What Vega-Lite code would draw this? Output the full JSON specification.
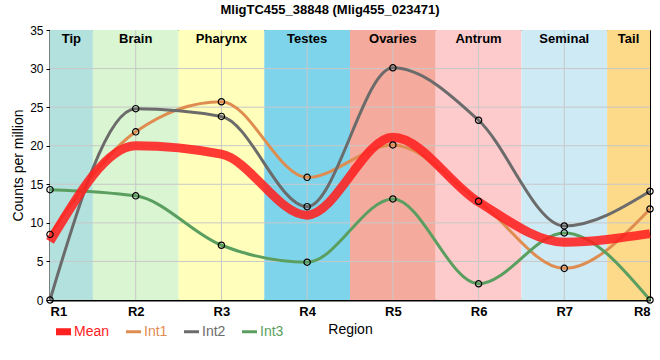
{
  "$schema": "https://vega.github.io/schema/vega-lite/v6.json",
  "width": 600,
  "height": 270,
  "autosize": {"type": "none"},
  "padding": {"left": 50, "top": 30, "right": 10, "bottom": 60},
  "title": {"text": "MligTC455_38848 (Mlig455_023471)", "fontSize": 13, "fontWeight": "bold", "font": "Liberation Sans", "anchor": "middle", "frame": "group", "dx": -20, "offset": 7, "color": "black"},
  "config": {"view": {"stroke": "black", "strokeWidth": 1}, "font": "Liberation Sans",
    "axisY": {"labelOverlap": false}},
  "datasets": {
    "bands": [
      {"name": "Tip", "start": 1, "end": 1.5, "mid": 1.25},
      {"name": "Brain", "start": 1.5, "end": 2.5, "mid": 2},
      {"name": "Pharynx", "start": 2.5, "end": 3.5, "mid": 3},
      {"name": "Testes", "start": 3.5, "end": 4.5, "mid": 4},
      {"name": "Ovaries", "start": 4.5, "end": 5.5, "mid": 5},
      {"name": "Antrum", "start": 5.5, "end": 6.5, "mid": 6},
      {"name": "Seminal", "start": 6.5, "end": 7.5, "mid": 7},
      {"name": "Tail", "start": 7.5, "end": 8, "mid": 7.75}
    ],
    "xgrid": [{"r": 2}, {"r": 3}, {"r": 4}, {"r": 5}, {"r": 6}, {"r": 7}],
    "ygrid": [{"v": 5}, {"v": 10}, {"v": 15}, {"v": 20}, {"v": 25}, {"v": 30}],
    "series": [
      {"series": "Int1", "r": 1, "v": 8.5},
      {"series": "Int1", "r": 2, "v": 21.8},
      {"series": "Int1", "r": 3, "v": 25.7},
      {"series": "Int1", "r": 4, "v": 15.9},
      {"series": "Int1", "r": 5, "v": 20.1},
      {"series": "Int1", "r": 6, "v": 12.8},
      {"series": "Int1", "r": 7, "v": 4.1},
      {"series": "Int1", "r": 8, "v": 11.8},
      {"series": "Int2", "r": 1, "v": 0},
      {"series": "Int2", "r": 2, "v": 24.8},
      {"series": "Int2", "r": 3, "v": 23.8},
      {"series": "Int2", "r": 4, "v": 12.1},
      {"series": "Int2", "r": 5, "v": 30.1},
      {"series": "Int2", "r": 6, "v": 23.3},
      {"series": "Int2", "r": 7, "v": 9.6},
      {"series": "Int2", "r": 8, "v": 14.1},
      {"series": "Int3", "r": 1, "v": 14.3},
      {"series": "Int3", "r": 2, "v": 13.5},
      {"series": "Int3", "r": 3, "v": 7.1},
      {"series": "Int3", "r": 4, "v": 4.9},
      {"series": "Int3", "r": 5, "v": 13.1},
      {"series": "Int3", "r": 6, "v": 2.1},
      {"series": "Int3", "r": 7, "v": 8.7},
      {"series": "Int3", "r": 8, "v": 0}
    ],
    "mean": [
      {"series": "Mean", "r": 1, "v": 7.6},
      {"series": "Mean", "r": 2, "v": 20.0},
      {"series": "Mean", "r": 3, "v": 18.9},
      {"series": "Mean", "r": 4, "v": 11.0},
      {"series": "Mean", "r": 5, "v": 21.1},
      {"series": "Mean", "r": 6, "v": 12.7},
      {"series": "Mean", "r": 7, "v": 7.5},
      {"series": "Mean", "r": 8, "v": 8.6}
    ]
  },
  "layer": [
    {
      "data": {"name": "bands"},
      "mark": {"type": "rect"},
      "encoding": {
        "x": {"field": "start", "type": "quantitative", "scale": {"domain": [1, 8], "nice": false, "zero": false},
          "axis": {"values": [1, 2, 3, 4, 5, 6, 7, 8], "labelExpr": "'R' + datum.value", "labelFontWeight": "bold", "labelFontSize": 13, "labelColor": "black", "domainColor": "black", "domainWidth": 2, "ticks": false, "grid": false, "title": "Region", "titleFontWeight": "normal", "titleFontSize": 14, "titleColor": "black", "titlePadding": 4, "labelPadding": 5}},
        "x2": {"field": "end"},
        "y": {"datum": 0, "type": "quantitative", "scale": {"domain": [0, 35], "nice": false},
          "axis": {"values": [0, 5, 10, 15, 20, 25, 30, 35], "tickCount": 8, "grid": false, "domainColor": "black", "domainWidth": 2, "tickSize": 4, "tickColor": "black", "labelFontSize": 12, "labelColor": "black", "labelPadding": 3, "title": "Counts per million", "titleFontWeight": "normal", "titleFontSize": 14, "titleColor": "black", "titlePadding": 4}},
        "y2": {"datum": 35},
        "fill": {"field": "name", "type": "nominal", "legend": null,
          "scale": {"domain": ["Tip", "Brain", "Pharynx", "Testes", "Ovaries", "Antrum", "Seminal", "Tail"],
                    "range": ["#b3e1dd", "#d9f5d1", "#ffffbb", "#7ed4eb", "#f4ab9d", "#fecbcc", "#cdeaf5", "#fdd98a"]}}
      }
    },
    {
      "data": {"name": "xgrid"},
      "mark": {"type": "rule", "color": "#c8c8c8", "strokeWidth": 1},
      "encoding": {
        "x": {"field": "r", "type": "quantitative"}
      }
    },
    {
      "data": {"name": "ygrid"},
      "mark": {"type": "rule", "color": "#c8c8c8", "strokeWidth": 1},
      "encoding": {
        "y": {"field": "v", "type": "quantitative", "axis": {"values": [0, 5, 10, 15, 20, 25, 30, 35], "tickCount": 8}}
      }
    },
    {
      "data": {"name": "bands"},
      "mark": {"type": "text", "fontWeight": "bold", "fontSize": 13, "color": "black", "baseline": "middle", "align": "center"},
      "encoding": {
        "x": {"field": "mid", "type": "quantitative"},
        "y": {"datum": 33.8, "type": "quantitative"},
        "text": {"field": "name"}
      }
    },
    {
      "data": {"name": "series"},
      "mark": {"type": "line", "interpolate": "monotone", "strokeWidth": 3},
      "encoding": {
        "x": {"field": "r", "type": "quantitative"},
        "y": {"field": "v", "type": "quantitative", "axis": {"values": [0, 5, 10, 15, 20, 25, 30, 35], "tickCount": 8}},
        "color": {"field": "series", "type": "nominal", "title": null,
          "scale": {"domain": ["Mean", "Int1", "Int2", "Int3"], "range": ["#ff2020", "#df8c50", "#6b6b6b", "#5b9f60"]},
          "legend": {"orient": "none", "legendX": 6, "legendY": 294, "direction": "horizontal", "columns": 4, "title": null, "padding": 0, "labelFontSize": 14, "symbolType": "M-1,-0.2H1V0.2H-1Z", "symbolSize": 225, "symbolStrokeWidth": 0, "columnPadding": 16, "labelOffset": 3,
            "encode": {
              "labels": {"update": {"fill": {"scale": "color", "field": "value"}}},
              "symbols": {"update": {
                "shape": {"signal": "datum.value === 'Mean' ? 'M-1,-0.47H1V0.47H-1Z' : 'M-1,-0.2H1V0.2H-1Z'"},
                "fill": {"scale": "color", "field": "value"},
                "fillOpacity": {"value": 1},
                "strokeWidth": {"value": 0}}}
            }}}
      }
    },
    {
      "data": {"name": "mean"},
      "mark": {"type": "line", "interpolate": "monotone", "opacity": 0.88, "strokeWidth": 9},
      "encoding": {
        "x": {"field": "r", "type": "quantitative"},
        "y": {"field": "v", "type": "quantitative"},
        "color": {"field": "series", "type": "nominal", "title": null}
      }
    },
    {
      "data": {"name": "series"},
      "mark": {"type": "point", "filled": false, "stroke": "black", "strokeWidth": 1.2, "size": 40, "opacity": 1},
      "encoding": {
        "x": {"field": "r", "type": "quantitative"},
        "y": {"field": "v", "type": "quantitative"}
      }
    }
  ]
}
